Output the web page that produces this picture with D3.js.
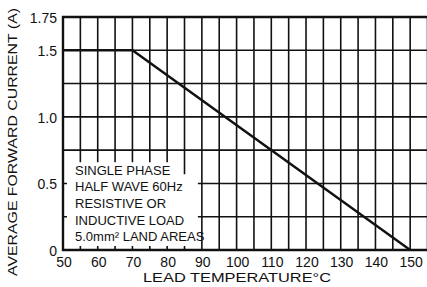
<!DOCTYPE html>
<html>
<head>
<meta charset="utf-8">
<script src="https://cdn.jsdelivr.net/npm/d3@7"></script>
<style>
  body { margin: 0; background: #fff; }
  text { font-family: "Liberation Sans", Arial, sans-serif; fill: #111; }
</style>
</head>
<body>
<div id="chart"></div>
<script>
// derating curve: lead temperature (C) vs average forward current (A)
var temps = [50, 70, 150];
var currents = [1.5, 1.5, 0];

var xTicks = [50, 60, 70, 80, 90, 100, 110, 120, 130, 140, 150];
var yTicks = [0, 0.5, 1.0, 1.5, 1.75];
var yTickLabels = ["0", "0.5", "1.0", "1.5", "1.75"];

var noteLines = ["SINGLE PHASE", "HALF WAVE 60Hz", "RESISTIVE OR", "INDUCTIVE LOAD", "5.0mm\u00b2 LAND AREAS"];

var width = 427, height = 287;

var svg = d3.select("#chart").append("svg")
    .attr("width", width)
    .attr("height", height);

// plot runs off the right edge in the original scan
var x = d3.scaleLinear().domain([50, 156]).range([63, 431]);
var y = d3.scaleLinear().domain([0, 1.75]).range([250, 17]);

// grid: every 5 C and every 0.25 A
var grid = svg.append("g").attr("stroke", "#111").attr("stroke-width", 1.6);

grid.selectAll("line.v")
    .data(d3.range(55, 156, 5))
    .enter().append("line")
    .attr("class", "v")
    .attr("x1", function(d) { return x(d); })
    .attr("x2", function(d) { return x(d); })
    .attr("y1", y(1.75))
    .attr("y2", y(0));

grid.selectAll("line.h")
    .data(d3.range(0.25, 1.75, 0.25))
    .enter().append("line")
    .attr("class", "h")
    .attr("x1", x(50))
    .attr("x2", width)
    .attr("y1", function(d) { return y(d); })
    .attr("y2", function(d) { return y(d); });

// white box for the note, grid only peeks in at the edges
svg.append("path")
    .attr("fill", "#fff")
    .attr("d", "M" + [x(50) + 4, y(0.75) + 12] +
        "L" + [x(83), y(0.75) + 12] +
        "L" + [x(83), y(0.75) + 24] +
        "L" + [x(90) - 4, y(0.75) + 24] +
        "L" + [x(90) - 4, y(0) - 4] +
        "L" + [x(50) + 4, y(0) - 4] + "Z");

// frame
svg.append("path")
    .attr("fill", "none")
    .attr("stroke", "#111")
    .attr("stroke-width", 2.4)
    .attr("d", "M" + [width, y(1.75)] + "L" + [x(50), y(1.75)] + "L" + [x(50), y(0)] + "L" + [width, y(0)]);

// curve
var line = d3.line()
    .x(function(d, i) { return x(temps[i]); })
    .y(function(d, i) { return y(currents[i]); });

svg.append("path")
    .datum(currents)
    .attr("fill", "none")
    .attr("stroke", "#111")
    .attr("stroke-width", 2.4)
    .attr("d", line);

// tick labels
svg.append("g").selectAll("text")
    .data(yTicks)
    .enter().append("text")
    .attr("x", 57)
    .attr("y", function(d) { return y(d) + 1; })
    .attr("dy", "0.35em")
    .attr("text-anchor", "end")
    .attr("font-size", 14)
    .text(function(d, i) { return yTickLabels[i]; });

svg.append("g").selectAll("text")
    .data(xTicks)
    .enter().append("text")
    .attr("x", function(d) { return x(d) + 1; })
    .attr("y", 262)
    .attr("dy", "0.35em")
    .attr("text-anchor", "middle")
    .attr("font-size", 14)
    .text(function(d) { return d; });

// axis titles (the scan uses a wide face, so stretch the glyphs)
svg.append("text")
    .attr("transform", "translate(17,142) rotate(-90)")
    .attr("text-anchor", "middle")
    .attr("font-size", 13.5)
    .attr("textLength", 268)
    .attr("lengthAdjust", "spacingAndGlyphs")
    .text("AVERAGE FORWARD CURRENT (A)");

svg.append("text")
    .attr("x", 237)
    .attr("y", 282)
    .attr("text-anchor", "middle")
    .attr("font-size", 13.5)
    .attr("textLength", 188)
    .attr("lengthAdjust", "spacingAndGlyphs")
    .text("LEAD TEMPERATURE\u00b0C");

// note
svg.append("g").selectAll("text")
    .data(noteLines)
    .enter().append("text")
    .attr("x", 75)
    .attr("y", function(d, i) { return 170 + i * 16.7; })
    .attr("dy", "0.35em")
    .attr("font-size", 13)
    .text(function(d) { return d; });
</script>
</body>
</html>
